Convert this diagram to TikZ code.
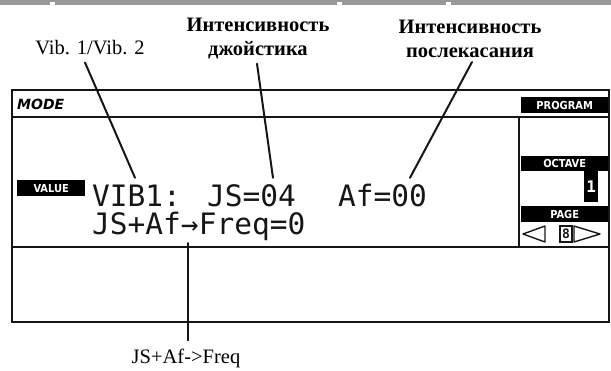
\documentclass[tikz,border=0pt]{standalone}
\usepackage{fontspec}
\setmainfont{Liberation Serif}
\setsansfont{DejaVu Sans}
\newfontfamily\lcdfont{DejaVu Sans Mono}
\newfontfamily\tagfont{DejaVu Sans Condensed}
\usetikzlibrary{calc}
\definecolor{bargray}{RGB}{152,152,152}
\definecolor{lcdink}{RGB}{22,22,22}
\tikzset{
  panel/.style={line width=2.6pt, draw=lcdink},
  divider/.style={line width=1.6pt, draw=lcdink},
  leader/.style={line width=2pt, draw=lcdink, line cap=round},
  callout/.style={font=\fontsize{20.5}{24}\selectfont, inner sep=0pt},
  callout-bold/.style={callout, font=\fontsize{20.5}{24}\selectfont\bfseries, align=center},
  lcd/.style={font=\lcdfont\fontsize{29.5}{29.5}\selectfont, text=lcdink, inner sep=0pt,
    text height=21pt, text depth=1pt, anchor=base west},
  tag/.style={fill=black, text=white, font=\tagfont\bfseries\fontsize{11}{11}\selectfont,
    inner sep=0pt, minimum height=16pt, anchor=north west},
  pagearrow/.style={line width=1.4pt, draw=lcdink, line join=round}
}
\newcommand{\topband}{%
  \fill[bargray] (0,0) rectangle (611,5);
  \foreach \x in {50,337,446} {
    \fill[white] (\x,2) rectangle ++(5,3);
  }
}

\begin{document}
\begin{tikzpicture}[x=1pt,y=-1pt]
  \useasboundingbox (0,0) rectangle (611,370);
  \topband
  \draw[panel] (12,90) rectangle (609,322);
  \draw[divider] (12,117) -- (609,117);
  \draw[divider] (12,247) -- (609,247);
  \draw[divider] (519,117) -- (519,247);

  \node[anchor=west, inner sep=0pt, font=\sffamily\bfseries\itshape\fontsize{14}{14}\selectfont] (mode) at (17,104) {MODE};
  \node[tag, minimum width=87pt] (program) at (521,97) {PROGRAM};
  \node[tag, minimum width=87pt, minimum height=15pt] (octave) at (521,156) {OCTAVE};
  \node[tag, minimum width=14pt, minimum height=31pt, font=\lcdfont\bfseries\fontsize{16}{16}\selectfont] (octnum) at (584,171) {1};
  \node[tag, minimum width=87pt] (page) at (521,206) {PAGE};
  \node[tag, minimum width=68pt] (value) at (17,180) {VALUE};

  \draw[pagearrow] (545,226) -- (523,234) -- (545,242) -- cycle;
  \node[draw=lcdink, line width=1.4pt, inner sep=0pt, minimum width=12pt, minimum height=16pt,
    font=\lcdfont\bfseries\fontsize{13}{13}\selectfont, text=lcdink] (pagenum) at (566,234) {8};
  \draw[pagearrow] (574,226) -- (600,234) -- (574,242) -- cycle;

  \node[lcd] (vib) at (92,206) {VIB1:};
  \node[lcd] (js) at (207,206) {JS=04};
  \node[lcd] (af) at (338,206) {Af=00};
  \node[lcd] (freq) at (92,234) {JS+Af→Freq=0};

  \node[callout, anchor=base] (lblvib) at (90,54) {Vib. 1/Vib. 2};
  \node[callout-bold] (lbljs) at (258,39) {Интенсивность\\джойстика};
  \node[callout-bold] (lblaf) at (470,39) {Интенсивность\\послекасания};
  \node[callout, anchor=base] (lblfreq) at (186,363) {JS+Af->Freq};

  \draw[leader] ($(lblvib.south)+(-5,8)$) -- ($(vib.north west)+(43,-7)$);
  \draw[leader] ($(lbljs.south)+(-1,4)$) -- ($(js.north west)+(66,-7)$);
  \draw[leader] ($(lblaf.south)+(2,4)$) -- ($(af.north west)+(72,-7)$);
  \draw[leader] ($(freq.south west)+(96,8)$) -- ($(lblfreq.north)+(2,-8)$);
\end{tikzpicture}
\end{document}
